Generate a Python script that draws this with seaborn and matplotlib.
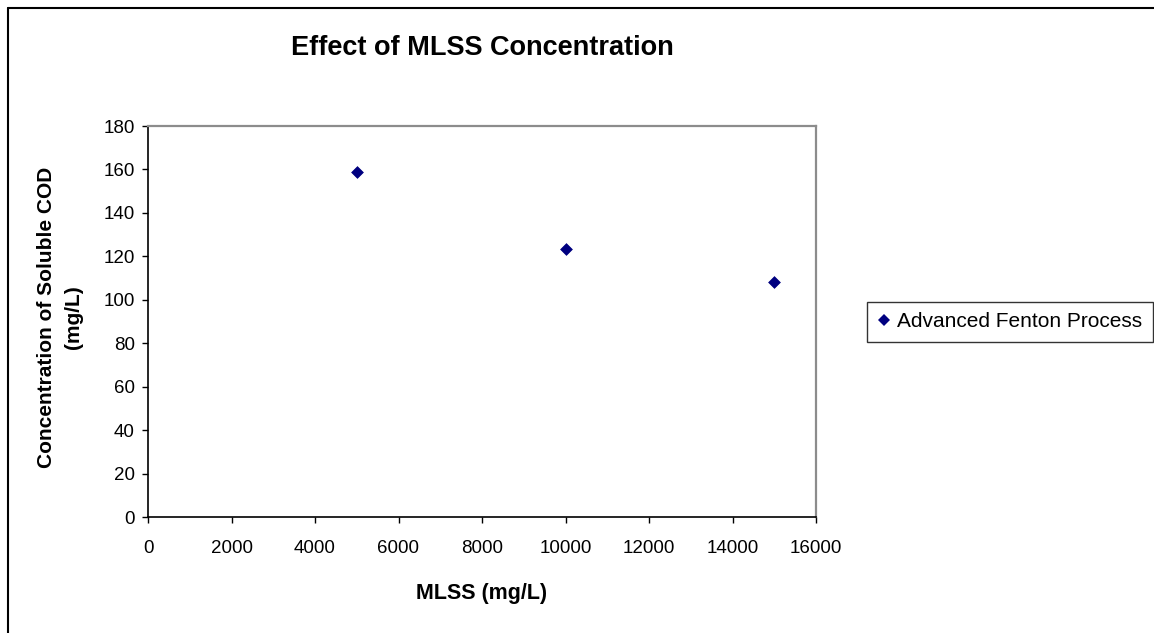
import matplotlib
matplotlib.use("Agg")
import matplotlib.pyplot as plt
from matplotlib.lines import Line2D
import seaborn as sns
import pandas as pd

# Soluble COD remaining after treatment at each MLSS level
mlss = [5000, 10000, 15000]
soluble_cod = [159, 123.5, 108]
series_name = "Advanced Fenton Process"

x_ticks = list(range(0, 16001, 2000))
y_ticks = list(range(0, 181, 20))

sns.set_style("white")
plt.rcParams["font.family"] = ["Liberation Sans", "DejaVu Sans"]

W, H = 1154, 633
AX_L, AX_R, AX_T, AX_B = 148, 816, 126, 517
fig = plt.figure(figsize=(W / 100, H / 100), dpi=100)
ax = fig.add_axes([AX_L / W, 1 - AX_B / H, (AX_R - AX_L) / W, (AX_B - AX_T) / H])

df = pd.DataFrame({"MLSS": mlss, "COD": soluble_cod})
sns.scatterplot(data=df, x="MLSS", y="COD", ax=ax, marker="D", s=36,
                color="#000080", edgecolor="#000080", linewidth=0.5,
                legend=False)

ax.set_xlim(0, 16000)
ax.set_ylim(0, 180)
ax.set_xticks(x_ticks)
ax.set_yticks(y_ticks)
ax.tick_params(axis="both", direction="out", length=4.5, width=1.0,
               color="black", labelsize=13.5, labelcolor="black",
               bottom=True, left=True)
ax.tick_params(axis="x", pad=12)
ax.tick_params(axis="y", pad=5)

for side in ("left", "bottom"):
    ax.spines[side].set_color("black")
    ax.spines[side].set_linewidth(1.2)
for side in ("top", "right"):
    ax.spines[side].set_color("#8c8c8c")
    ax.spines[side].set_linewidth(1.6)

ax.set_xlabel("MLSS (mg/L)", fontsize=15.5, fontweight="bold", color="black")
ax.xaxis.set_label_coords(0.5, -(593 - AX_B) / (AX_B - AX_T))
ax.xaxis.label.set_va("center")

ax.set_ylabel("Concentration of Soluble COD\n(mg/L)", fontsize=15,
              fontweight="bold", color="black", linespacing=1.55)
ax.yaxis.set_label_coords(-(AX_L - 60) / (AX_R - AX_L), 0.51)
ax.yaxis.label.set_va("center")

fig.text((AX_L + AX_R) / 2 / W, 1 - 48 / H, "Effect of MLSS Concentration",
         ha="center", va="center", fontsize=19.5, fontweight="bold",
         color="black")

handle = Line2D([], [], marker="D", linestyle="none", color="#000080",
                markersize=6, markeredgewidth=0)
leg = fig.legend([handle], [series_name], loc="upper left",
                 bbox_to_anchor=(867 / W, 1 - 302 / H), fontsize=15,
                 frameon=True, fancybox=False, handlelength=0.6,
                 handletextpad=0.35, borderpad=0.5, borderaxespad=0)
leg.get_frame().set_edgecolor("black")
leg.get_frame().set_linewidth(1.0)
for t in leg.get_texts():
    t.set_color("black")

# Chart frame: top and left edges only
fig.add_artist(Line2D([7.5 / W, 1], [1 - 7.5 / H, 1 - 7.5 / H],
                      transform=fig.transFigure, color="black", linewidth=1.5))
fig.add_artist(Line2D([7.5 / W, 7.5 / W], [0, 1 - 7.5 / H],
                      transform=fig.transFigure, color="black", linewidth=1.5))

fig.savefig("out.png", dpi=100)
